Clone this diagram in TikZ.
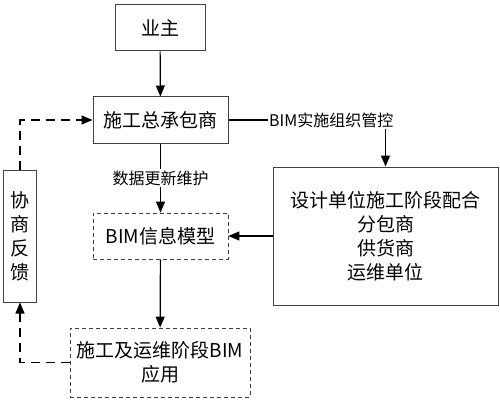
\documentclass[tikz,border=0pt]{standalone}
\usepackage{fontspec}
\setmainfont{Noto Sans CJK SC}
\usetikzlibrary{arrows,arrows.meta}
\tikzset{
         box/.style={draw=black!75,line width=1pt,inner sep=0pt,align=center,
                     font=\fontsize{19}{24}\selectfont},
         dbox/.style={box,dash pattern=on 4pt off 3pt,line width=.8pt},
         flow/.style={-{Triangle[length=11pt,width=9pt]},line width=1.2pt},
         back/.style={-{Triangle[length=11pt,width=9pt]},line width=1.2pt,dash pattern=on 9pt off 6pt}
        }
\begin{document}
\begin{tikzpicture}[x=1pt,y=-1pt]
\useasboundingbox (0,0) rectangle (500,401);
\node[box,minimum width=90pt,minimum height=46pt] (owner) at (160,28){业主};
\node[box,minimum width=135pt,minimum height=46pt] (gc) at (160.5,120){施工总承包商};
\node[dbox,minimum width=135pt,minimum height=46pt] (bim) at (160.5,236){BIM信息模型};
\node[dbox,minimum width=180pt,minimum height=69pt] (app) at (160,362.5){施工及运维阶段BIM\\应用};
\node[box,minimum width=33pt,minimum height=132pt] (fb) at (20,236){协\\商\\反\\馈};
\node[box,minimum width=225pt,minimum height=138pt] (units) at (385.5,236)
     {设计单位施工阶段配合\\分包商\\供货商\\运维单位};
\node[anchor=west,inner sep=1pt,font=\fontsize{16}{18}\selectfont] (ctrl) at (268,120){BIM实施组织管控};
\draw[flow](owner)--(gc);
\draw[flow](gc)--(bim);
\node[fill=white,inner sep=2pt,font=\fontsize{16}{18}\selectfont] (upd) at (160.5,178){数据更新维护};
\draw[flow](bim)--(app);
\draw[line width=1.2pt](gc.east)--(ctrl.west);
\draw[flow](ctrl.south -| units.north)--(units.north);
\draw[flow](units.west)--(bim.east);
\draw[back](app.west)-|(fb.south);
\draw[back](fb.north)|-(gc.west);
\end{tikzpicture}
\end{document}
